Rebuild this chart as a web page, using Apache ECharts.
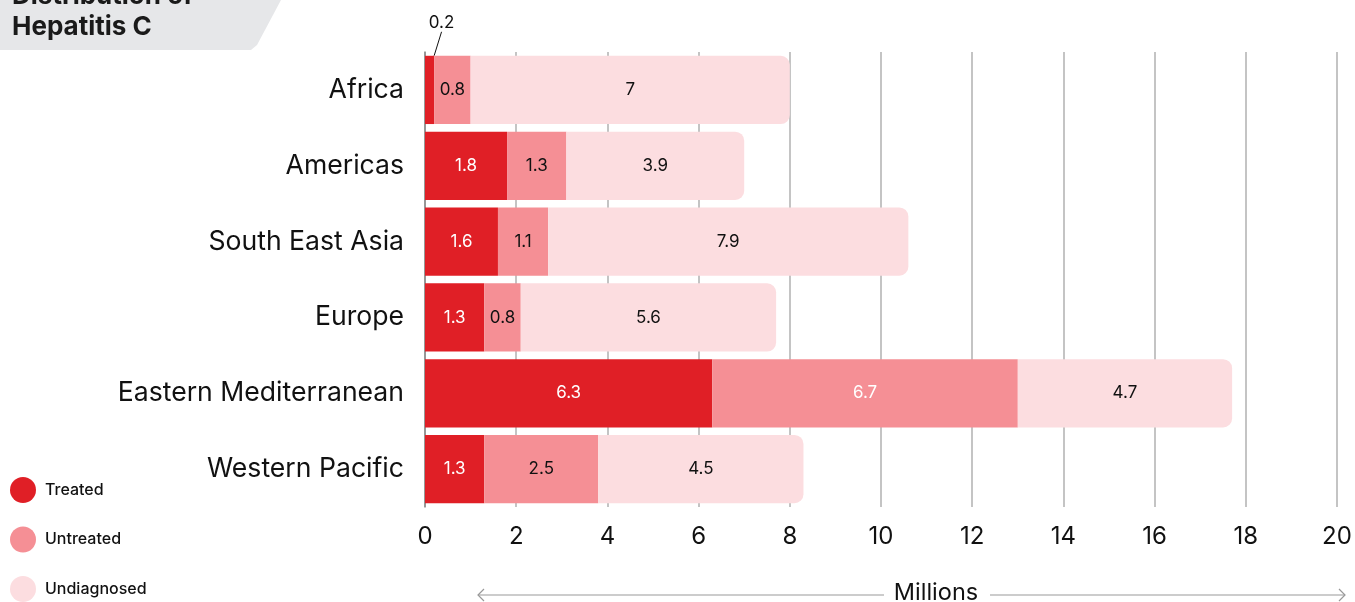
<!DOCTYPE html>
<html><head><meta charset="utf-8">
<script src="https://cdn.jsdelivr.net/npm/echarts@6/dist/echarts.min.js"></script>
<style>html,body{margin:0;padding:0;background:#fff}#c{width:1355px;height:602px}</style>
</head><body><div id="c"></div>
<script>
const categories = ['Africa','Americas','South East Asia','Europe','Eastern Mediterranean','Western Pacific'];
const treated = [0.2, 1.8, 1.6, 1.3, 6.3, 1.3];
const untreated = [0.8, 1.3, 1.1, 0.8, 6.7, 2.5];
const undiagnosed = [7, 3.9, 7.9, 5.6, 4.7, 4.5];
const xTicks = [0,2,4,6,8,10,12,14,16,18,20];

const FONT = 'Inter, "Noto Sans", sans-serif';
const chart = echarts.init(document.getElementById('c'));
const baseLabel = {show:true, position:'inside', fontFamily:FONT, fontSize:17, color:'#111'};
chart.setOption({
  animation:false,
  textStyle:{fontFamily:FONT},
  legend:{
    orient:'vertical', left:10, top:477, padding:0, itemWidth:26, itemHeight:26, itemGap:23.5,
    icon:'circle', textStyle:{fontSize:16, fontWeight:500, color:'#111', fontFamily:FONT, padding:[0,0,0,4]},
    data:['Treated','Untreated','Undiagnosed']
  },
  grid:{left:425, right:18, top:52, bottom:95},
  xAxis:{
    type:'value', min:0, max:20, interval:2,
    axisLine:{show:false}, axisTick:{show:false},
    splitLine:{show:true, lineStyle:{color:'#b0b0b0', width:1.5}},
    axisLabel:{fontSize:24, color:'#111', margin:18, fontFamily:FONT, formatter:v=>xTicks.includes(v)?String(v):''}
  },
  yAxis:{
    type:'category', data:categories, inverse:true,
    axisLine:{show:true, lineStyle:{color:'#888', width:1.5}},
    axisTick:{show:false},
    axisLabel:{fontSize:26.6, color:'#111', margin:21, fontFamily:FONT}
  },
  series:[
    {name:'Treated', type:'bar', stack:'t', barCategoryGap:'10%', itemStyle:{color:'#e01f26'},
     data:treated.map((v,i)=> i===0 ? {value:v, label:{color:'#111', position:'top'}} : v),
     label:Object.assign({}, baseLabel, {color:'#fff'}),
     labelLine:{show:true, lineStyle:{color:'#111', width:1}},
     labelLayout:function(p){ if(p.dataIndex===0) return {dx:12, dy:-19}; return {}; }
    },
    {name:'Untreated', type:'bar', stack:'t', itemStyle:{color:'#f58f95'},
     data:untreated.map((v,i)=> i===4 ? {value:v, label:{color:'#fff'}} : v),
     label:baseLabel},
    {name:'Undiagnosed', type:'bar', stack:'t', itemStyle:{color:'#fcdde0', borderRadius:[0,9,9,0]},
     data:undiagnosed, label:baseLabel}
  ],
  graphic:[
    {type:'polygon', shape:{points:[[0,0],[281,0],[257,45],[251,50],[0,50]]}, style:{fill:'#e6e7e9'}, z:0},
    {type:'text', left:12, top:-19, style:{text:'Distribution of\nHepatitis C', fontSize:26, fontWeight:'bold', lineHeight:31, fill:'#1a1a1a', fontFamily:FONT}},
    {type:'line', shape:{x1:478,y1:595,x2:884,y2:595}, style:{stroke:'#999', lineWidth:1.2}},
    {type:'line', shape:{x1:990,y1:595,x2:1345,y2:595}, style:{stroke:'#999', lineWidth:1.2}},
    {type:'polyline', shape:{points:[[484,589],[478,595],[484,601]]}, style:{stroke:'#999', lineWidth:1.2, fill:null}},
    {type:'polyline', shape:{points:[[1339,589],[1345,595],[1339,601]]}, style:{stroke:'#999', lineWidth:1.2, fill:null}},
    {type:'text', x:936, y:593, style:{text:'Millions', fontSize:23.5, fill:'#111', align:'center', verticalAlign:'middle', fontFamily:FONT}}
  ]
});
</script></body></html>
